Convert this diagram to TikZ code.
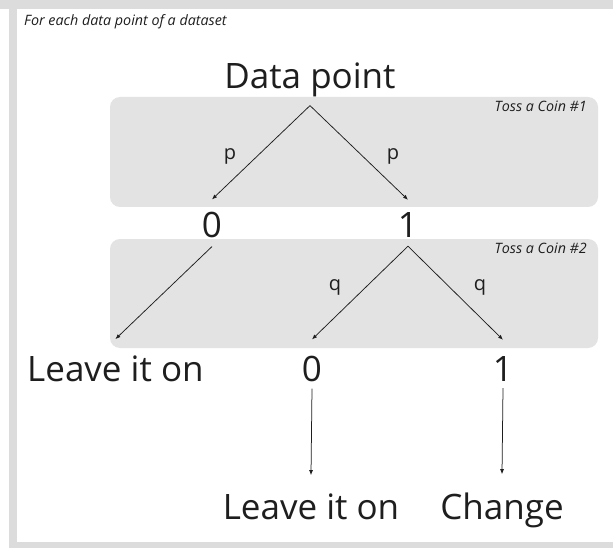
\documentclass[tikz,border=0pt]{standalone}
\usepackage{fontspec}
\setmainfont{Open Sans}
\usetikzlibrary{arrows.meta, positioning}

\definecolor{framegray}{HTML}{DCDCDC}
\definecolor{boxgray}{HTML}{E3E3E3}
\definecolor{ink}{HTML}{1E1E1E}

\begin{document}
\begin{tikzpicture}[x=1pt, y=-1pt,
    big/.style={inner sep=0pt, text=ink, font=\fontsize{35}{40}\selectfont},
    prob/.style={inner sep=0pt, text=ink, font=\fontsize{20}{24}\selectfont},
    note/.style={inner sep=0pt, text=ink, font=\fontsize{14.3}{17}\selectfont\itshape},
    coinbox/.style={fill=boxgray, rounded corners=10pt},
    branch/.style={-{Latex[length=5pt,width=4pt]}, draw=ink, line width=0.75pt}]

        % Page and frame
        \fill[white] (0,0) rectangle (613,548);
        \fill[framegray] (0,0) rectangle (613,9);
        \fill[framegray] (9,0) rectangle (17,548);
        \fill[framegray] (9,542) rectangle (613,548);

        % Coin toss panels
        \fill[coinbox] (110,97) rectangle (598,207);
        \fill[coinbox] (110,239) rectangle (598,348);

        % Captions
        \node[note, anchor=base west] (title) at (24,26) {For each data point of a dataset};
        \node[note, anchor=base east] (coin1) at (587,112) {Toss a Coin \#1};
        \node[note, anchor=base east] (coin2) at (587,253) {Toss a Coin \#2};

        % Tree
        \node[big, anchor=base] (dp) at (310,89) {Data point};
        \node[big, anchor=base] (a0) at (212,237) {0};
        \node[big, anchor=base] (a1) at (408,237) {1};
        \node[big, anchor=base west] (leave1) at (27,381) {Leave it on};
        \node[big, anchor=base] (b0) at (312,381) {0};
        \node[big, anchor=base] (b1) at (503,381) {1};
        \node[big, anchor=base] (leave2) at (311,519) {Leave it on};
        \node[big, anchor=base] (change) at (502,519) {Change};

        % First toss
        \draw[branch] ([yshift=-8pt]dp.south) -- ([yshift=12pt]a0.north);
        \draw[branch] ([yshift=-8pt]dp.south) -- ([yshift=12pt]a1.north);
        \node[prob] (p0) at (230,156) {p};
        \node[prob] (p1) at (393,156) {p};

        % Second toss
        \draw[branch] ([yshift=-9pt]a0.south) -- ([yshift=16pt]leave1.north);
        \draw[branch] ([yshift=-9pt]a1.south) -- ([yshift=16pt]b0.north);
        \draw[branch] ([yshift=-9pt]a1.south) -- ([yshift=16pt]b1.north);
        \node[prob] (q0) at (335,287) {q};
        \node[prob] (q1) at (480,287) {q};

        % Outcomes
        \draw[branch] ([yshift=-7pt]b0.south) -- ([yshift=18pt]leave2.north);
        \draw[branch] ([yshift=-7pt]b1.south) -- ([yshift=18pt]change.north);

\end{tikzpicture}
\end{document}
